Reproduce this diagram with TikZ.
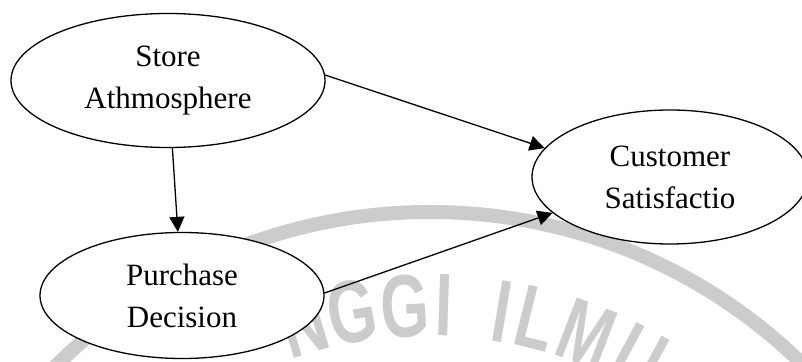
\documentclass[tikz,border=0pt]{standalone}
\usepackage{fontspec}
\usepackage{graphicx}
\setmainfont{Liberation Serif}
\newfontfamily\wmfont{Liberation Sans}
\usetikzlibrary{arrows.meta,shapes.geometric,calc}
\definecolor{wmgray}{RGB}{204,204,204}
\tikzset{
  var/.style={ellipse, draw=black, line width=1.3pt, fill=white, inner sep=0pt,
    align=center, font=\fontsize{31}{42}\selectfont},
  link/.style={line width=1.3pt, -{Triangle[length=15pt,width=15pt]}},
  wmletter/.style={text=wmgray, font=\wmfont\bfseries\fontsize{89}{89}\selectfont,
    anchor=base, inner sep=0pt},
}
\begin{document}
\begin{tikzpicture}[x=1pt,y=1pt]
\useasboundingbox (0,0) rectangle (802,361);
\begin{scope}
  \clip (0,0) rectangle (802,361);
  \coordinate (wc) at (430,-383);
  \draw[wmgray, line width=14pt] (wc) circle (532);
  \foreach \a/\l [count=\i] in {16.8/N, 10.2/G, 3.3/G, -1.8/I, -9.5/I, -14/L, -21/M, -28.5/U} {
    \node[wmletter, rotate=\a] (wm\i) at ($(wc)+(90+\a:408)$) {\scalebox{0.7}[1]{\l}};
  }
\end{scope}
\node[var, minimum width=314pt, minimum height=134pt] (store) at (168,280.5) {Store\\Athmosphere};
\node[var, minimum width=284pt, minimum height=126pt] (purch) at (182,65.5) {Purchase\\Decision};
\node[var, minimum width=276pt, minimum height=134pt] (cust) at (670,184) {Customer\\Satisfactio};
\draw[link] (store) -- (purch);
\draw[link] (store.2) -- (cust.167);
\draw[link] (purch.1.5) -- (cust.197);
\end{tikzpicture}
\end{document}
